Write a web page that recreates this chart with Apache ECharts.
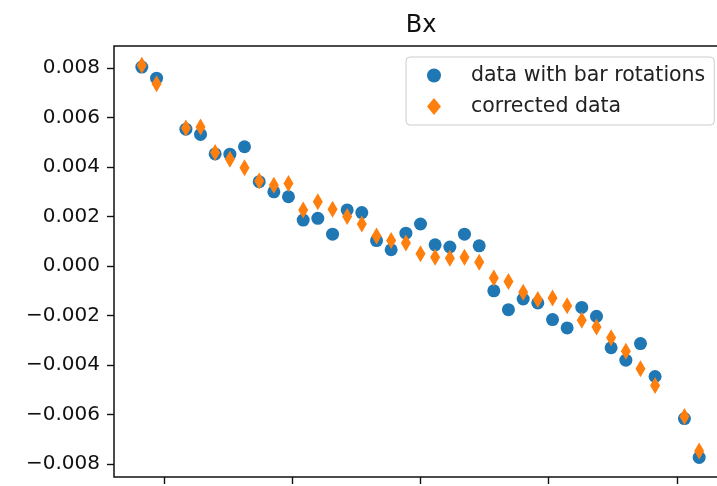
<!DOCTYPE html>
<html>
<head>
<meta charset="utf-8">
<script src="https://cdn.jsdelivr.net/npm/echarts@6/dist/echarts.min.js"></script>
<style>
  html, body { margin: 0; padding: 0; background: #fff; overflow: hidden; }
  #chart { width: 740px; height: 486px; }
</style>
</head>
<body>
<div id="chart"></div>
<script>
// Probe positions along the bar (mm) and measured Bx values
const xPos = [-217.4, -205.9, -183.0, -171.6, -160.2, -148.7, -137.3, -125.8, -114.4, -103.0,
  -91.5, -80.1, -68.6, -57.2, -45.8, -34.3, -22.9, -11.4, 0.0, 11.4, 22.9, 34.3, 45.8, 57.2,
  68.6, 80.1, 91.5, 103.0, 114.4, 125.8, 137.3, 148.7, 160.2, 171.6, 183.0, 205.9, 217.4];

const bxWithRotations = [0.00804, 0.00759, 0.00553, 0.00532, 0.00453, 0.00452, 0.00482, 0.00341,
  0.00300, 0.00280, 0.00186, 0.00193, 0.00129, 0.00227, 0.00216, 0.00103, 0.00066, 0.00133,
  0.00170, 0.00086, 0.00077, 0.00129, 0.00082, -0.00100, -0.00176, -0.00133, -0.00149,
  -0.00216, -0.00250, -0.00167, -0.00203, -0.00330, -0.00380, -0.00313, -0.00446, -0.00616,
  -0.00773];

const bxCorrected = [0.00811, 0.00737, 0.00558, 0.00562, 0.00459, 0.00432, 0.00397, 0.00344,
  0.00327, 0.00334, 0.00227, 0.00260, 0.00230, 0.00200, 0.00170, 0.00122, 0.00103, 0.00093,
  0.00050, 0.00036, 0.00032, 0.00036, 0.00015, -0.00048, -0.00062, -0.00106, -0.00135,
  -0.00129, -0.00160, -0.00219, -0.00246, -0.00290, -0.00344, -0.00415, -0.00482, -0.00608,
  -0.00747];

const seriesNames = ['data with bar rotations', 'corrected data'];
const xTicks = [-200, -100, 0, 100, 200];
const yTicks = [-0.008, -0.006, -0.004, -0.002, 0.0, 0.002, 0.004, 0.006, 0.008];

const FONT = 'DejaVu Sans';
const pairs = (xs, ys) => xs.map((x, i) => [x, ys[i]]);
const fmtY = v => v.toFixed(3).replace('-', '\u2212');

const chart = echarts.init(document.getElementById('chart'), null, { renderer: 'canvas' });

chart.setOption({
  animation: false,
  backgroundColor: '#fff',
  title: {
    text: 'Bx',
    left: 416,
    top: 9,
    textAlign: 'center',
    textStyle: { fontFamily: FONT, fontSize: 24, fontWeight: 'normal', color: '#111' }
  },
  legend: {
    orient: 'vertical',
    left: 406,
    top: 57,
    padding: [8, 9, 8, 21],
    itemGap: 10,
    itemWidth: 14,
    itemHeight: 17,
    backgroundColor: 'rgba(255,255,255,0.8)',
    borderColor: '#cccccc',
    borderWidth: 1,
    borderRadius: 4,
    textStyle: { fontFamily: FONT, fontSize: 20.5, color: '#222', padding: [0, 0, 0, 25] },
    data: [
      { name: seriesNames[0], icon: 'circle' },
      { name: seriesNames[1], icon: 'diamond' }
    ]
  },
  grid: {
    left: 114, right: 13, top: 46, bottom: 9,
    show: true,
    borderColor: '#111',
    borderWidth: 1.5,
    backgroundColor: 'transparent'
  },
  xAxis: {
    type: 'value',
    min: -239.1,
    max: 239.1,
    splitLine: { show: false },
    axisLine: { show: false, onZero: false },
    axisTick: {
      show: true, length: 7, lineStyle: { color: '#111', width: 1.4 },
      customValues: xTicks
    },
    axisLabel: { show: false }
  },
  yAxis: {
    type: 'value',
    min: -0.00852,
    max: 0.00889,
    splitLine: { show: false },
    axisLine: { show: false, onZero: false },
    axisTick: {
      show: true, length: 7, lineStyle: { color: '#111', width: 1.4 },
      customValues: yTicks
    },
    axisLabel: {
      show: true,
      customValues: yTicks,
      margin: 14,
      formatter: fmtY,
      fontFamily: FONT, fontSize: 20, color: '#111'
    }
  },
  series: [
    {
      name: seriesNames[0],
      type: 'scatter',
      symbol: 'circle',
      symbolSize: 13,
      itemStyle: { color: '#1f77b4', opacity: 1 },
      data: pairs(xPos, bxWithRotations)
    },
    {
      name: seriesNames[1],
      type: 'scatter',
      symbol: 'diamond',
      symbolSize: [10, 17],
      itemStyle: { color: '#ff7f0e', opacity: 1 },
      data: pairs(xPos, bxCorrected)
    }
  ]
});
</script>
</body>
</html>
